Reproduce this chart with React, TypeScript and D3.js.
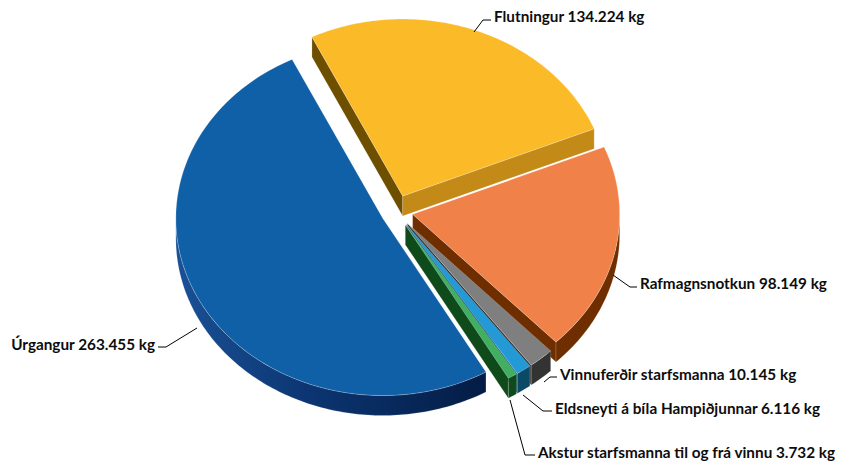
import React, { useEffect, useRef } from 'react';
import * as d3 from 'd3';

// slices, clockwise from the top-left edge of Flutningur
const categories = [
  'Flutningur',
  'Rafmagnsnotkun',
  'Vinnuferðir starfsmanna',
  'Eldsneyti á bíla Hampiðjunnar',
  'Akstur starfsmanna til og frá vinnu',
  'Úrgangur',
];
const values = [134224, 98149, 10145, 6116, 3732, 263455];

const topColors = ['#FBBA28', '#F08149', '#7F7F7F', '#2399D6', '#40B060', '#1060A8'];
const wallColors = ['#C38A18', '#6E2E00', '#333333', '#0B4A66', '#0E4A1A', '#0A2F66'];
const startFaceColors = ['#6E4F00', '#6E2E00', '#404040', '#0B4A66', '#0E4A1A', '#0A2F66'];

// label text position and leader polyline, per slice
const labelLayout = [
  { x: 494, y: 17, anchor: 'start', leader: [[474, 32], [483, 20], [491, 20]] },
  { x: 640, y: 284, anchor: 'start', leader: [[613, 275], [630, 287], [637, 287]] },
  { x: 560, y: 375, anchor: 'start', leader: [[544, 382], [550, 377], [557, 377]] },
  { x: 555, y: 409, anchor: 'start', leader: [[523, 395], [543, 411], [552, 411]] },
  { x: 538, y: 453, anchor: 'start', leader: [[510, 400], [525, 455], [535, 455]] },
  { x: 155, y: 345, anchor: 'end', leader: [[197, 328], [166, 347], [158, 347]] },
];

const is = d3.formatLocale({ decimal: ',', thousands: '.', grouping: [3], currency: ['', ' kr'] });
const fmt = is.format(',d');

const W = 854;
const H = 461;

function App() {
  const ref = useRef<SVGSVGElement | null>(null);

  useEffect(() => {
    const svg = d3.select(ref.current);
    svg.selectAll('*').remove();

    const cx = 397, cy = 211;
    const rx = 207, ry = 177;
    const depth = 20;
    const explode = 16;
    const start = (-26 * Math.PI) / 180;

    const pie = d3
      .pie<number>()
      .sort(null)
      .startAngle(start)
      .endAngle(start + 2 * Math.PI);
    const arcs = pie(values);

    const pt = (t: number, ox: number, oy: number, dy = 0): [number, number] => [
      ox + rx * Math.sin(t),
      oy - ry * Math.cos(t) + dy,
    ];
    const line = d3.line();

    const defs = svg.append('defs');
    const grad = defs
      .append('linearGradient')
      .attr('id', 'wall5')
      .attr('x1', '0%')
      .attr('x2', '100%');
    grad.append('stop').attr('offset', '0%').attr('stop-color', '#1A5196');
    grad.append('stop').attr('offset', '45%').attr('stop-color', '#0B3470');
    grad.append('stop').attr('offset', '100%').attr('stop-color', '#041C45');

    const slices = arcs.map((a, i) => {
      const mid = (a.startAngle + a.endAngle) / 2;
      return {
        i,
        a0: a.startAngle,
        a1: a.endAngle,
        mid,
        ox: cx + explode * Math.sin(mid),
        oy: cy - explode * Math.cos(mid),
      };
    });

    // back to front
    const order = slices.slice().sort((p, q) => Math.cos(q.mid) - Math.cos(p.mid));

    const g = svg.append('g');
    const edge = 'rgba(255,255,255,0.35)';

    order.forEach((s) => {
      const sg = g.append('g');
      const steps = (t0: number, t1: number) => {
        const n = Math.max(2, Math.ceil(((t1 - t0) * 180) / Math.PI));
        return d3.range(n + 1).map((k) => t0 + ((t1 - t0) * k) / n);
      };

      // start radial face
      if (Math.sin(s.a0) < 0) {
        const r = pt(s.a0, s.ox, s.oy);
        sg.append('path')
          .attr('d', line([[s.ox, s.oy], r, [r[0], r[1] + depth], [s.ox, s.oy + depth]]) + 'Z')
          .attr('fill', startFaceColors[s.i])
          .attr('stroke', edge)
          .attr('stroke-width', 0.5);
      }
      // end radial face
      if (Math.sin(s.a1) > 0) {
        const r = pt(s.a1, s.ox, s.oy);
        sg.append('path')
          .attr('d', line([[s.ox, s.oy], r, [r[0], r[1] + depth], [s.ox, s.oy + depth]]) + 'Z')
          .attr('fill', wallColors[s.i])
          .attr('stroke', edge)
          .attr('stroke-width', 0.5);
      }
      // outer wall on the front half
      const lo = Math.max(s.a0, Math.PI / 2);
      const hi = Math.min(s.a1, (3 * Math.PI) / 2);
      if (hi > lo) {
        const ts = steps(lo, hi);
        const topPts = ts.map((t) => pt(t, s.ox, s.oy));
        const botPts = ts.map((t) => pt(t, s.ox, s.oy, depth)).reverse();
        sg.append('path')
          .attr('d', line([...topPts, ...botPts]) + 'Z')
          .attr('fill', s.i === 5 ? 'url(#wall5)' : wallColors[s.i])
          .attr('stroke', edge)
          .attr('stroke-width', 0.5);
      }
      // top surface
      const ts = steps(s.a0, s.a1);
      sg.append('path')
        .attr('d', line([[s.ox, s.oy], ...ts.map((t) => pt(t, s.ox, s.oy))]) + 'Z')
        .attr('fill', topColors[s.i])
        .attr('stroke', edge)
        .attr('stroke-width', 0.6);
    });

    // labels
    const lg = svg.append('g');
    labelLayout.forEach((l, i) => {
      lg.append('path')
        .attr('d', line(l.leader as [number, number][]))
        .attr('fill', 'none')
        .attr('stroke', '#000')
        .attr('stroke-width', 1);
      lg.append('text')
        .attr('x', l.x)
        .attr('y', l.y)
        .attr('dy', '0.35em')
        .attr('text-anchor', l.anchor)
        .attr('font-family', 'Lato, "Open Sans", sans-serif')
        .attr('font-weight', 'bold')
        .attr('font-size', 15.3)
        .attr('fill', '#0D0D0D')
        .text(`${categories[i]} ${fmt(values[i])} kg`);
    });
  }, []);

  return (
    <svg
      ref={ref}
      width={W}
      height={H}
      style={{ position: 'absolute', left: 0, top: 0, background: '#fff' }}
    />
  );
}

export default App;
